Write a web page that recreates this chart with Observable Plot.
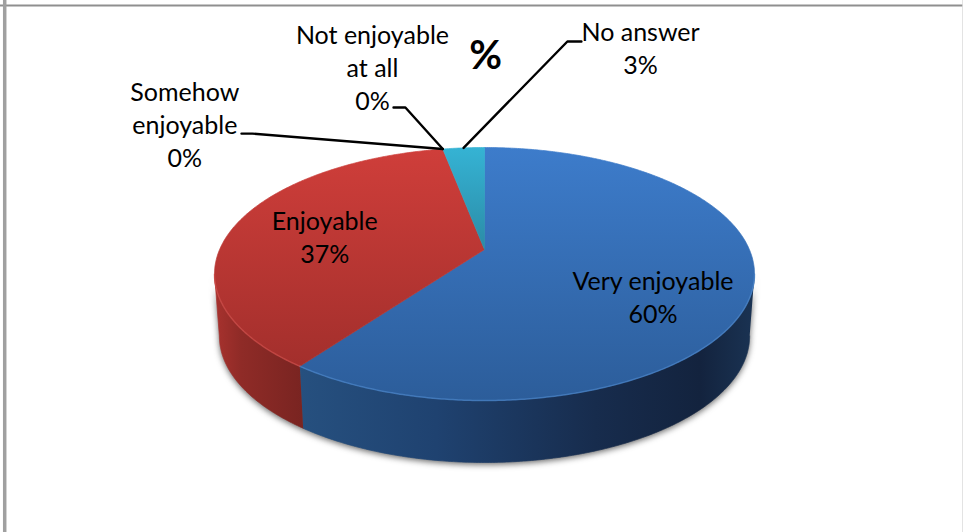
<!DOCTYPE html>
<html>
<head>
<meta charset="utf-8">
<script src="https://cdn.jsdelivr.net/npm/d3@7"></script>
<script src="https://cdn.jsdelivr.net/npm/@observablehq/plot@0.6"></script>
<style>
html,body{margin:0;padding:0;background:#fff;overflow:hidden}
svg{display:block}
</style>
</head>
<body>
<div id="chart"></div>
<script>
// Chart values
const categories = ["Very enjoyable", "Enjoyable", "Somehow\nenjoyable", "Not enjoyable\nat all", "No answer"];
const shares = [60, 37, 0, 0, 3];
const title = "%";

// Drawing parameters (pie radii are the scale's unit)
const tilt = -0.194, depth = 0.49, baseShrink = 0.982;
const topColors = ["url(#topBlue)", "url(#topRed)", "none", "none", "url(#topCyan)"];
const sideColors = ["url(#sideBlue)", "url(#sideRed)", "none", "none", "none"];
const rimColors = ["#4f8ad0", "#d2504c", "none", "none", "none"];
const labelX = [0.624, -0.592, -1.11, -0.415, 0.578];
const labelY = [0.171, -0.304, -1.194, -1.644, -1.794];
const elbowX = [null, null, [-0.9, -0.86], [-0.337, -0.293], [0.359, 0.307]];
const elbowY = [null, null, [-1.11, -1.11], [-1.316, -1.316], [-1.838, -1.838]];

// Perspective projection of a point of the pie's rim (degrees clockwise from the top)
function rim(deg) {
  const a = deg * Math.PI / 180, u = Math.sin(a), v = -Math.cos(a), w = 1 + tilt * v;
  return {x: Math.sqrt(1 - tilt * tilt) * u / w, y: (v + tilt) / w};
}
const apex = {x: 0, y: tilt};
const total = d3.sum(shares);
let acc = 0;
const slices = shares.map((s) => { const a0 = acc / total * 360; acc += s; return {a0, a1: acc / total * 360}; });
function arc(a0, a1) {
  const n = Math.max(2, Math.ceil((a1 - a0) * 2));
  return d3.range(n + 1).map((i) => rim(a0 + (a1 - a0) * i / n));
}
const base = (p) => ({x: p.x * baseShrink, y: p.y + depth});
// The wall is visible between the ellipse's left and right extremes
const wallA0 = Math.acos(tilt) * 180 / Math.PI, wallA1 = 360 - wallA0;

const defs = () => {
  const g = (id, x2, y2, stops) => `<linearGradient id="${id}" x1="0" y1="0" x2="${x2}" y2="${y2}">` +
    stops.map(([o, c]) => `<stop offset="${o}" stop-color="${c}"/>`).join("") + `</linearGradient>`;
  const el = document.createElementNS("http://www.w3.org/2000/svg", "defs");
  el.innerHTML =
    g("topBlue", 0, 1, [[0, "#3d7ccb"], [1, "#2c5d9a"]]) +
    g("topRed", 0, 1, [[0, "#cf3e3a"], [1, "#a32f2c"]]) +
    g("topCyan", 0, 1, [[0, "#35b3d4"], [1, "#2b8ba6"]]) +
    g("sideBlue", 1, 0, [[0, "#26507f"], [0.3, "#1f4270"], [0.65, "#172c4d"], [0.88, "#13233e"], [1, "#1a3353"]]) +
    g("sideRed", 1, 0, [[0, "#a8322e"], [0.3, "#8f2b27"], [1, "#792421"]]);
  return el;
};

const marks = [defs];

// Frame of the picture
marks.push(Plot.ruleY([-2.122], {stroke: "#8f8f8f", strokeWidth: 2}));
marks.push(Plot.ruleX([-1.777], {stroke: "#a0a0a0", strokeWidth: 3.5}));
marks.push(Plot.ruleX([1.772], {stroke: "#dddddd", strokeWidth: 1.5}));

// Soft shadow under the wall
const silhouette = [...arc(wallA0, wallA1).map(base), ...arc(wallA0, wallA1).reverse()];
marks.push(Plot.line(silhouette, {x: "x", y: (d) => d.y + 0.016, fill: "#333", stroke: "none", fillOpacity: 0.75, imageFilter: "blur(3px)"}));

// Walls
slices.forEach((s, i) => {
  const a0 = Math.max(s.a0, wallA0), a1 = Math.min(s.a1, wallA1);
  if (a1 <= a0 || sideColors[i] === "none") return;
  const pts = [...arc(a0, a1), ...arc(a0, a1).reverse().map(base)];
  marks.push(Plot.line(pts, {x: "x", y: "y", fill: sideColors[i], stroke: sideColors[i], strokeWidth: 0.7}));
});

// Top faces
slices.forEach((s, i) => {
  if (s.a1 <= s.a0) return;
  const pts = [apex, ...arc(s.a0, s.a1), apex];
  marks.push(Plot.line(pts, {x: "x", y: "y", fill: topColors[i], stroke: topColors[i], strokeWidth: 0.7}));
});

// Highlight on the front edge
slices.forEach((s, i) => {
  const a0 = Math.max(s.a0, wallA0), a1 = Math.min(s.a1, wallA1);
  if (a1 <= a0 || rimColors[i] === "none") return;
  marks.push(Plot.line(arc(a0, a1), {x: "x", y: "y", stroke: rimColors[i], strokeWidth: 1.5, strokeOpacity: 0.6}));
});

// Leader lines
slices.forEach((s, i) => {
  if (!elbowX[i]) return;
  const end = rim((s.a0 + s.a1) / 2);
  const pts = [...elbowX[i].map((x, j) => ({x, y: elbowY[i][j]})), end];
  marks.push(Plot.line(pts, {x: "x", y: "y", stroke: "#000", strokeWidth: 2.4, strokeLinejoin: "miter"}));
});

// Labels
const labels = categories.map((c, i) => ({text: `${c}\n${shares[i]}%`, x: labelX[i], y: labelY[i]}));
marks.push(Plot.text(labels, {x: "x", y: "y", text: "text", fontSize: 25, lineHeight: 1.32, fill: "#000", textAnchor: "middle", fontFamily: "Lato"}));
marks.push(Plot.text([title], {x: [0.004], y: [-1.72], text: (d) => d, fontSize: 40, fontWeight: "bold", fill: "#000", fontFamily: "Lato"}));

const plot = Plot.plot({
  width: 963, height: 532, margin: 0,
  x: {domain: [-484 / 270, 479 / 270], range: [0, 963], axis: null},
  y: {domain: [-273.5 / 126.5, 258.5 / 126.5], range: [0, 532], axis: null},
  style: {background: "#fff"},
  marks
});
document.getElementById("chart").append(plot);
</script>
</body>
</html>
